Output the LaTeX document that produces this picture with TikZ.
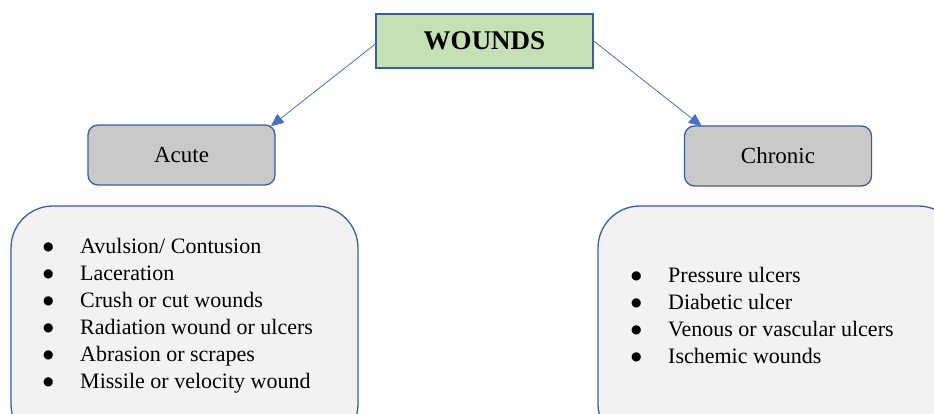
\documentclass[tikz,border=0pt]{standalone}
\usepackage{fontspec}
\usepackage{graphicx}
\setmainfont{Liberation Serif}
\newfontfamily\symfont{DejaVu Sans}
\usetikzlibrary{arrows.meta}
\definecolor{boxgreen}{HTML}{C5E0B4}
\definecolor{boxgray}{HTML}{C9C9C9}
\definecolor{listfill}{HTML}{F2F2F2}
\definecolor{edgeblue}{HTML}{3A5F9E}
\definecolor{arrowblue}{HTML}{4472C4}
\newcommand\bigbul{\raisebox{2.5pt}{\symfont\fontsize{12}{12}\selectfont ●}}
\begin{document}
\begin{tikzpicture}[x=1pt,y=-1pt,
  titlebox/.style={draw=edgeblue,line width=1.3pt,fill=boxgreen,minimum width=217pt,minimum height=54pt,inner sep=0pt,font=\fontsize{27}{30}\selectfont\bfseries},
  catbox/.style={draw=edgeblue,line width=1.3pt,fill=boxgray,rounded corners=10pt,minimum width=187pt,minimum height=60pt,inner sep=0pt,font=\fontsize{23}{27}\selectfont},
  listbox/.style={draw=edgeblue,line width=1.3pt,fill=listfill,rounded corners=42pt,inner sep=0pt},
  listtext/.style={anchor=north west,inner sep=0pt,align=left,font=\fontsize{22}{27}\selectfont},
  arr/.style={draw=arrowblue,line width=0.8pt,-{Triangle[length=13pt,width=11pt]}}]
\useasboundingbox (0,0) rectangle (934,414);
\clip (0,0) rectangle (934,414);
\node[titlebox] (wounds) at (484.5,41) {WOUNDS};
\node[catbox] (acute) at (181.5,155) {Acute};
\node[catbox] (chronic) at (778,156) {Chronic};
\node[listbox,minimum width=347pt,minimum height=240pt] (acutelist) at (184.5,326) {};
\node[listbox,minimum width=362pt,minimum height=240pt] (chroniclist) at (779,326) {};
\node[listtext] (acuteitems) at (43,234) {\begin{tabular}{@{}p{37pt}@{}l@{}}
\bigbul & Avulsion/ Contusion\\
\bigbul & Laceration\\
\bigbul & Crush or cut wounds\\
\bigbul & Radiation wound or ulcers\\
\bigbul & Abrasion or scrapes\\
\bigbul & Missile or velocity wound
\end{tabular}};
\node[listtext] (chronicitems) at (631,263) {\begin{tabular}{@{}p{37pt}@{}l@{}}
\bigbul & Pressure ulcers\\
\bigbul & Diabetic ulcer\\
\bigbul & Venous or vascular ulcers\\
\bigbul & Ischemic wounds
\end{tabular}};
\draw[arr] ([yshift=-3pt]wounds.west) -- ([xshift=-5pt,yshift=-2pt]acute.north east);
\draw[arr] (wounds.east) -- ([xshift=18pt,yshift=-1pt]chronic.north west);
\end{tikzpicture}
\end{document}
